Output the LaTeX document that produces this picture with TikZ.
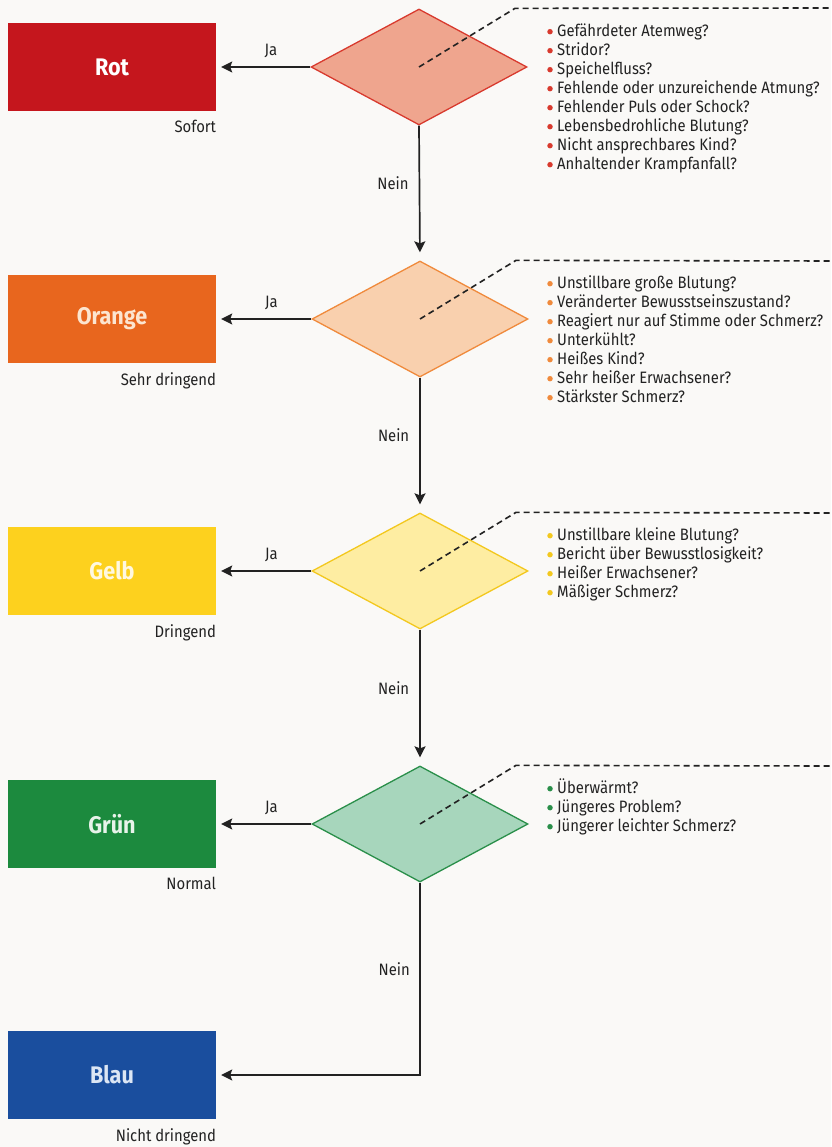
\documentclass[tikz,border=0pt]{standalone}
\usepackage{fontspec}
\setmainfont{Fira Sans}[FakeStretch=0.9]
\usetikzlibrary{shapes.geometric,arrows.meta,calc}
\definecolor{bg}{HTML}{FAF9F7}
\definecolor{ink}{HTML}{222222}
\definecolor{rotbox}{HTML}{C5161D}
\definecolor{rotfill}{HTML}{EFA58E}
\definecolor{rotline}{HTML}{D83A2E}
\definecolor{orbox}{HTML}{E8661E}
\definecolor{orfill}{HTML}{F9D0AE}
\definecolor{orline}{HTML}{F08A3C}
\definecolor{ortext}{HTML}{FCE5D0}
\definecolor{gebox}{HTML}{FDD11E}
\definecolor{gefill}{HTML}{FEEDA2}
\definecolor{geline}{HTML}{F3C81E}
\definecolor{getext}{HTML}{FFF8E0}
\definecolor{grbox}{HTML}{1C8A3E}
\definecolor{grfill}{HTML}{A7D6BC}
\definecolor{grline}{HTML}{2A8F4A}
\definecolor{grtext}{HTML}{E8F3EA}
\definecolor{blbox}{HTML}{1A4E9E}
\definecolor{bltext}{HTML}{DCE6F4}
\tikzset{
  catbox/.style={rectangle, minimum width=208pt, minimum height=88pt, inner sep=0pt,
    font=\fontsize{24}{28}\selectfont\bfseries},
  decide/.style={diamond, minimum width=216pt, minimum height=116pt, inner sep=0pt, line width=1.3pt},
  lbl/.style={font=\fontsize{16.5}{19}\selectfont, text=ink, inner sep=0pt},
  urg/.style={lbl, anchor=north east},
  arr/.style={draw=ink, line width=1.7pt, -{Stealth[length=11pt,width=11pt,inset=2pt]}},
  lead/.style={draw=ink, line width=1.6pt, dash pattern=on 6pt off 4pt},
  qlist/.style={lbl, anchor=north west, align=left, font=\fontsize{16.5}{19}\selectfont},
  dot/.style={circle, inner sep=0pt, minimum size=5.5pt},
}
\newcommand{\fl}{\rule{0pt}{15.5pt}}
\begin{document}
\begin{tikzpicture}[x=1pt,y=-1pt]
\fill[bg] (0,0) rectangle (831,1147);
\useasboundingbox (0,0) rectangle (831,1147);

% boxes
\node[catbox, fill=rotbox, text=white] (b1) at (112,67) {Rot};
\node[catbox, fill=orbox, text=ortext] (b2) at (112,319) {Orange};
\node[catbox, fill=gebox, text=getext] (b3) at (112,571) {Gelb};
\node[catbox, fill=grbox, text=grtext] (b4) at (112,824) {Grün};
\node[catbox, fill=blbox, text=bltext] (b5) at (112,1075) {Blau};

% urgency labels
\node[urg] (u1) at ([yshift=-9pt]b1.south east) {Sofort};
\node[urg] (u2) at ([yshift=-9pt]b2.south east) {Sehr dringend};
\node[urg] (u3) at ([yshift=-9pt]b3.south east) {Dringend};
\node[urg] (u4) at ([yshift=-9pt]b4.south east) {Normal};
\node[urg] (u5) at ([yshift=-9pt]b5.south east) {Nicht dringend};

% diamonds
\node[decide, fill=rotfill, draw=rotline] (d1) at (419,67) {};
\node[decide, fill=orfill, draw=orline] (d2) at (420,319) {};
\node[decide, fill=gefill, draw=geline] (d3) at (420,571) {};
\node[decide, fill=grfill, draw=grline] (d4) at (420,824) {};

% Ja arrows
\draw[arr, shorten >=5pt] (d1.west) -- (b1.east) node[lbl, pos=0.42, above=8pt] (j1) {Ja};
\draw[arr, shorten >=5pt] (d2.west) -- (b2.east) node[lbl, pos=0.42, above=8pt] (j2) {Ja};
\draw[arr, shorten >=5pt] (d3.west) -- (b3.east) node[lbl, pos=0.42, above=8pt] (j3) {Ja};
\draw[arr, shorten >=5pt] (d4.west) -- (b4.east) node[lbl, pos=0.42, above=8pt] (j4) {Ja};

% Nein arrows
\draw[arr, shorten >=8pt] (d1.south) -- (d2.north) node[lbl, pos=0.43, left=10pt] (n1) {Nein};
\draw[arr, shorten >=8pt] (d2.south) -- (d3.north) node[lbl, pos=0.43, left=10pt] (n2) {Nein};
\draw[arr, shorten >=8pt] (d3.south) -- (d4.north) node[lbl, pos=0.43, left=10pt] (n3) {Nein};
\coordinate (k4) at (d4.south |- b5.east);
\draw[arr, shorten >=5pt] (d4.south) -- (k4) -- (b5.east);
\node[lbl, left=10pt] (n4) at ($(d4.south)!0.45!(k4)$) {Nein};

% dashed leaders
\foreach \d in {1,2,3,4}{
  \coordinate (e\d) at ([xshift=96pt]d\d.north);
}
\draw[lead] (d1.center) -- (e1) -- (831,8);
\draw[lead] (d2.center) -- (e2) -- (831,261);
\draw[lead] (d3.center) -- (e3) -- (831,513);
\draw[lead] (d4.center) -- (e4) -- (831,766);

% question lists
\node[qlist] (q1) at (557,20.5) {%
\fl Gefährdeter Atemweg?\\
Stridor?\\
Speichelfluss?\\
Fehlende oder unzureichende Atmung?\\
Fehlender Puls oder Schock?\\
Lebensbedrohliche Blutung?\\
Nicht ansprechbares Kind?\\
Anhaltender Krampfanfall?};
\node[qlist] (q2) at (557,272.5) {%
\fl Unstillbare große Blutung?\\
Veränderter Bewusstseinszustand?\\
Reagiert nur auf Stimme oder Schmerz?\\
Unterkühlt?\\
Heißes Kind?\\
Sehr heißer Erwachsener?\\
Stärkster Schmerz?};
\node[qlist] (q3) at (557,524.5) {%
\fl Unstillbare kleine Blutung?\\
Bericht über Bewusstlosigkeit?\\
Heißer Erwachsener?\\
Mäßiger Schmerz?};
\node[qlist] (q4) at (557,777.5) {%
\fl Überwärmt?\\
Jüngeres Problem?\\
Jüngerer leichter Schmerz?};

% bullets
\foreach \i in {0,...,7} \node[dot, fill=rotline] (r\i) at (550,31.7+19*\i) {};
\foreach \i in {0,...,6} \node[dot, fill=orline] (o\i) at (550,283.7+19*\i) {};
\foreach \i in {0,...,3} \node[dot, fill=geline] (y\i) at (550,535.7+19*\i) {};
\foreach \i in {0,...,2} \node[dot, fill=grline] (g\i) at (550,788.7+19*\i) {};
\end{tikzpicture}
\end{document}
